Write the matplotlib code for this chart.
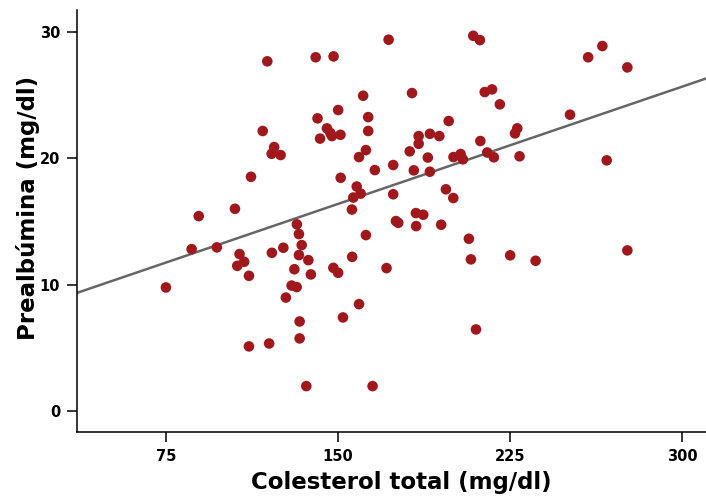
import numpy as np
import matplotlib
matplotlib.use('Agg')
import matplotlib.pyplot as plt
import matplotlib.ticker as ticker

# Data
colesterol = np.array([
    119.2, 117.2, 122.2, 121.1, 125.0, 112.1, 105.1, 89.3, 86.2, 97.2,
    107.1, 109.1, 106.1, 111.2, 121.2, 75.0, 111.2, 120.0, 172.1, 140.3,
    148.1, 209.0, 211.9, 214.0, 217.2, 220.6, 161.0, 182.3, 150.1, 141.1,
    163.2, 145.2, 146.7, 147.4, 151.1, 142.2, 163.2, 198.3, 185.2, 190.1,
    194.2, 185.2, 212.1, 162.2, 159.2, 181.3, 189.2, 200.4, 203.5, 204.5,
    215.1, 218.0, 166.1, 174.1, 183.1, 190.1, 151.2, 158.2, 156.7, 159.9,
    174.1, 197.1, 200.3, 156.1, 184.0, 187.2, 175.3, 176.3, 184.1, 195.0,
    207.1, 208.0, 265.3, 259.1, 276.2, 251.2, 228.2, 227.2, 229.2, 267.2,
    225.1, 236.2, 276.2, 132.1, 133.0, 126.2, 134.2, 133.0, 137.1, 131.0,
    138.2, 162.2, 156.2, 148.0, 150.1, 171.2, 129.8, 132.0, 127.3, 159.2,
    152.2, 133.3, 133.3, 210.2, 136.2, 165.1])
prealbumina = np.array([
    27.66, 22.15, 20.88, 20.35, 20.25, 18.53, 16.00, 15.42, 12.81, 12.95,
    12.42, 11.81, 11.49, 10.70, 12.52, 9.78, 5.12, 5.35, 29.37, 27.98,
    28.05, 29.68, 29.34, 25.23, 25.44, 24.26, 24.94, 25.15, 23.81, 23.15,
    23.25, 22.36, 21.99, 21.75, 21.85, 21.55, 22.15, 22.94, 21.75, 21.93,
    21.75, 21.14, 21.36, 20.64, 20.09, 20.54, 20.05, 20.09, 20.33, 19.91,
    20.45, 20.07, 19.06, 19.46, 19.04, 18.93, 18.45, 17.76, 16.89, 17.20,
    17.15, 17.54, 16.85, 15.94, 15.66, 15.53, 15.03, 14.89, 14.63, 14.74,
    13.63, 12.00, 28.87, 27.98, 27.18, 23.44, 22.36, 21.96, 20.15, 19.83,
    12.32, 11.89, 12.71, 14.77, 14.00, 12.92, 13.13, 12.34, 11.94, 11.22,
    10.81, 13.92, 12.20, 11.33, 10.94, 11.31, 9.93, 9.81, 8.98, 8.46,
    7.41, 7.09, 5.75, 6.46, 1.98, 1.98])

# fitted line as drawn in the reference (ends at the axis limits)
fit_x = [36.2, 310.5]
fit_y = [9.35, 26.3]

x_ticks = [75, 150, 225, 300]
y_ticks = [0, 10, 20, 30]

fig = plt.figure(figsize=(7.06, 4.99), dpi=100)
ax = fig.add_axes([0.109, 0.134, 0.891, 0.846])

ax.scatter(colesterol, prealbumina, s=58, color='#a0181c', edgecolors='none',
           zorder=3)
ax.plot(fit_x, fit_y, color='#666666', lw=1.8, zorder=2)

ax.set_xlim(36.2, 310.5)
ax.set_ylim(-1.66, 31.72)
ax.xaxis.set_major_locator(ticker.FixedLocator(x_ticks))
ax.yaxis.set_major_locator(ticker.FixedLocator(y_ticks))

for side in ['top', 'right']:
    ax.spines[side].set_visible(False)
for side in ['left', 'bottom']:
    ax.spines[side].set_linewidth(1.1)
ax.tick_params(direction='out', length=7, width=1.1, labelsize=10.5, pad=5)
for lab in ax.get_xticklabels() + ax.get_yticklabels():
    lab.set_fontweight('bold')

ax.set_xlabel('Colesterol total (mg/dl)', fontsize=16.5, fontweight='bold',
              labelpad=5)
ax.set_ylabel('Prealbúmina (mg/dl)', fontsize=16.5, fontweight='bold',
              labelpad=0)
ax.xaxis.label.set_x(0.515)
ax.yaxis.label.set_y(0.53)

fig.savefig('out.png', dpi=100)
